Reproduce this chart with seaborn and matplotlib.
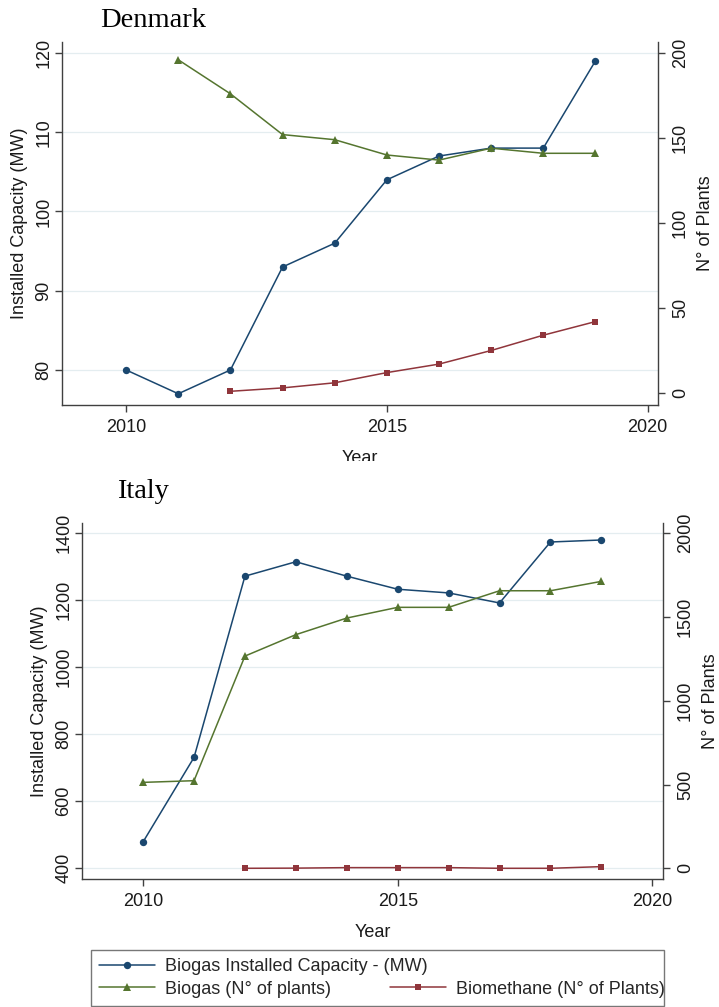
import numpy as np
import pandas as pd
import matplotlib
matplotlib.use("Agg")
import matplotlib.pyplot as plt
from matplotlib.lines import Line2D
from matplotlib.patches import Rectangle
import seaborn as sns

# ---------------- data ----------------
dk_years = [2010, 2011, 2012, 2013, 2014, 2015, 2016, 2017, 2018, 2019]
dk_capacity = [80, 77, 80, 93, 96, 104, 107, 108, 108, 119]
dk_biogas_years = [2011, 2012, 2013, 2014, 2015, 2016, 2017, 2018, 2019]
dk_biogas_plants = [196, 176, 152, 149, 140, 137, 144, 141, 141]
dk_meth_years = [2012, 2013, 2014, 2015, 2016, 2017, 2018, 2019]
dk_meth_plants = [1, 3, 6, 12, 17, 25, 34, 42]

it_years = [2010, 2011, 2012, 2013, 2014, 2015, 2016, 2017, 2018, 2019]
it_capacity = [479, 731, 1272, 1315, 1272, 1233, 1222, 1192, 1374, 1380]
it_biogas_years = [2010, 2011, 2012, 2013, 2014, 2015, 2016, 2017, 2018, 2019]
it_biogas_plants = [513, 523, 1267, 1395, 1494, 1558, 1558, 1657, 1657, 1713]
it_meth_years = [2012, 2013, 2014, 2015, 2016, 2017, 2018, 2019]
it_meth_plants = [0, 1, 4, 4, 4, 0, 0, 10]

x_ticks = [2010, 2015, 2020]
dk_left_ticks = [80, 90, 100, 110, 120]
dk_right_ticks = [0, 50, 100, 150, 200]
it_left_ticks = [400, 600, 800, 1000, 1200, 1400]
it_right_ticks = [0, 500, 1000, 1500, 2000]

lbl_cap = "Biogas Installed Capacity - (MW)"
lbl_bio = "Biogas (N\u00b0 of plants)"
lbl_meth = "Biomethane (N\u00b0 of Plants)"

# ---------------- style ----------------
sns.set_style("white")
plt.rcParams["font.family"] = ["Liberation Sans", "DejaVu Sans"]

C_BLUE = "#1a476f"
C_GREEN = "#55752f"
C_RED = "#90353b"
SPINE = "#404040"
GRID = "#e4edf0"
FS = 13

W, H = 719, 1007
fig = plt.figure(figsize=(W / 100, H / 100), dpi=100)


def px_axes(l, t, r, b):
    return [l / W, 1 - b / H, (r - l) / W, (b - t) / H]


def draw_panel(rect, years, cap, by, bp, my, mp, xlim, ylim1, ylim2,
               lt, rt, zbase):
    ax = fig.add_axes(rect)
    ax2 = ax.twinx()
    ax.set_zorder(zbase)
    ax2.set_zorder(zbase + 1)
    ax2.patch.set_visible(False)

    for y in lt:
        ax.axhline(y, color=GRID, lw=0.9, zorder=0)

    sns.lineplot(x=years, y=cap, ax=ax, color=C_BLUE, marker="o",
                 markersize=5.3, markeredgewidth=0, linewidth=1.1)
    sns.lineplot(x=by, y=bp, ax=ax2, color=C_GREEN, marker="^",
                 markersize=6.2, markeredgewidth=0, linewidth=1.1)
    sns.lineplot(x=my, y=mp, ax=ax2, color=C_RED, marker="s",
                 markersize=5.0, markeredgewidth=0, linewidth=1.1)

    ax.set_xlim(*xlim)
    ax.set_ylim(*ylim1)
    ax2.set_ylim(*ylim2)

    for a in (ax, ax2):
        for s in a.spines.values():
            s.set_visible(False)
    ax.spines["left"].set_visible(True)
    ax.spines["bottom"].set_visible(True)
    ax2.spines["right"].set_visible(True)
    for s in (ax.spines["left"], ax.spines["bottom"], ax2.spines["right"]):
        s.set_color(SPINE)
        s.set_linewidth(1.0)

    ax.set_xticks(x_ticks)
    ax.set_xticklabels([str(v) for v in x_ticks], fontsize=FS)
    ax.set_yticks(lt)
    ax.set_yticklabels([str(v) for v in lt], fontsize=FS, rotation=90,
                       va="center")
    ax2.set_yticks(rt)
    ax2.set_yticklabels([str(v) for v in rt], fontsize=FS, rotation=90,
                        va="center")
    ax.tick_params(axis="both", which="major", direction="out", length=5,
                   width=1.0, color=SPINE, labelcolor="#1a1a1a",
                   bottom=True, left=True)
    ax.tick_params(axis="x", pad=5)
    ax.tick_params(axis="y", pad=2)
    ax2.tick_params(axis="y", direction="out", length=5, width=1.0,
                    color=SPINE, labelcolor="#1a1a1a", right=True, pad=5)
    ax.grid(False)
    ax2.grid(False)

    ax.set_xlabel("Year", fontsize=FS, color="#1a1a1a", labelpad=10)
    ax.set_ylabel("Installed Capacity (MW)", fontsize=FS, color="#1a1a1a",
                  labelpad=5)
    ax2.set_ylabel("N\u00b0 of Plants", fontsize=FS, color="#1a1a1a",
                   labelpad=6)
    return ax, ax2


# Denmark
draw_panel(px_axes(62, 42, 658, 405), dk_years, dk_capacity,
           dk_biogas_years, dk_biogas_plants, dk_meth_years, dk_meth_plants,
           (2008.77, 2020.2), (75.58, 121.39), (-7.06, 206.47),
           dk_left_ticks, dk_right_ticks, zbase=0)

# mask (the lower picture covers the bottom of the Denmark x-title)
fig.patches.append(Rectangle((0, 0), 1, 1 - 461 / H, transform=fig.transFigure,
                             facecolor="white", edgecolor="none", zorder=1.5))

# Italy
draw_panel(px_axes(82, 523, 663, 879), it_years, it_capacity,
           it_biogas_years, it_biogas_plants, it_meth_years, it_meth_plants,
           (2008.8, 2020.21), (368.1, 1430.7), (-63.9, 2061.5),
           it_left_ticks, it_right_ticks, zbase=2)

# titles
fig.text(100 / W, 1 - 27 / H, "Denmark", fontfamily="Liberation Serif",
         fontsize=20.5, va="baseline", ha="left", color="black", zorder=4)
fig.text(117 / W, 1 - 498 / H, "Italy", fontfamily="Liberation Serif",
         fontsize=20.5, va="baseline", ha="left", color="black", zorder=4)

# legend
h_cap = Line2D([], [], color=C_BLUE, marker="o", markersize=5.3,
               markeredgewidth=0, linewidth=1.1)
h_bio = Line2D([], [], color=C_GREEN, marker="^", markersize=6.2,
               markeredgewidth=0, linewidth=1.1)
h_meth = Line2D([], [], color=C_RED, marker="s", markersize=5.0,
                markeredgewidth=0, linewidth=1.1)
h_blank = Line2D([], [], color="none")

top = 1 - 950 / H
common = dict(fontsize=FS, handlelength=3.1, handletextpad=0.55,
              borderpad=0.45, labelspacing=0.3, borderaxespad=0,
              loc="upper left", bbox_transform=fig.transFigure)
leg1 = fig.legend(handles=[h_cap, h_bio], labels=[lbl_cap, lbl_bio],
                  bbox_to_anchor=(91 / W, top - 0.1, (664 - 91) / W, 0.1),
                  mode="expand", fancybox=False, frameon=True, **common)
leg1.get_frame().set_edgecolor("#555555")
leg1.get_frame().set_linewidth(1.0)
leg1.set_zorder(6)
leg2 = fig.legend(handles=[h_blank, h_meth], labels=[" ", lbl_meth],
                  bbox_to_anchor=(382 / W, top), frameon=False, **common)
leg2.set_zorder(7)

fig.savefig("out.png", dpi=100)
